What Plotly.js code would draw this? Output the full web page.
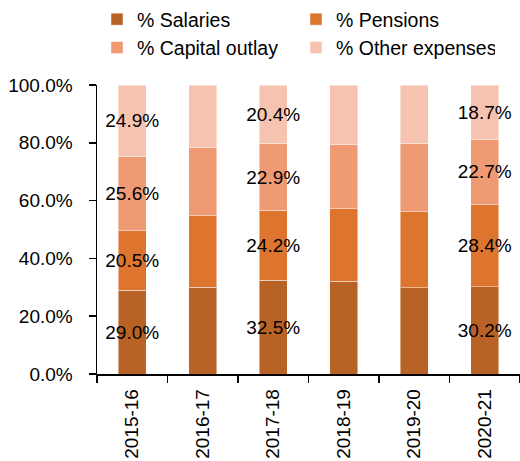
<!DOCTYPE html>
<html>
<head>
<meta charset="utf-8">
<script src="https://cdn.plot.ly/plotly-3.0.1.min.js"></script>
<style>
  html, body { margin: 0; padding: 0; background: #fff; overflow: hidden; }
  #chart { width: 520px; height: 461px; }
</style>
</head>
<body>
<div id="chart"></div>
<script>
// fiscal years on the x axis
const years = ['2015-16', '2016-17', '2017-18', '2018-19', '2019-20', '2020-21'];

// shares of total spending, in percent
const salaries = [29.0, 30.0, 32.5, 32.1, 29.9, 30.2];
const pensions = [20.5, 24.8, 24.2, 25.1, 26.3, 28.4];
const capitalOutlay = [25.6, 23.7, 22.9, 22.2, 23.5, 22.7];
const otherExpenses = [24.9, 21.5, 20.4, 20.6, 20.3, 18.7];

// only these years carry value labels in the original
const labelledYears = ['2015-16', '2017-18', '2020-21'];

const yTicks = [0, 20, 40, 60, 80, 100];

const FONT = 'Liberation Sans, Arial, sans-serif';
const FS = 19;

function makeTrace(name, values, color) {
  return {
    type: 'bar',
    name: name,
    x: years,
    y: values,
    marker: { color: color, line: { color: 'rgba(255,255,255,0.45)', width: 1 } },
    text: values.map((v, i) => labelledYears.includes(years[i]) ? v.toFixed(1) + '%' : ''),
    textposition: 'inside',
    insidetextanchor: 'middle',
    textangle: 0,
    textfont: { family: FONT, size: FS, color: '#000' },
    hoverinfo: 'skip'
  };
}

const traces = [
  makeTrace('% Salaries', salaries, '#B96226'),
  makeTrace('% Pensions', pensions, '#DE752E'),
  makeTrace('% Capital outlay', capitalOutlay, '#EF9A72'),
  makeTrace('% Other expenses', otherExpenses, '#F5C3B0')
];

const layout = {
  width: 520,
  height: 461,
  margin: { l: 97, r: 0, t: 85, b: 87 },
  paper_bgcolor: '#fff',
  plot_bgcolor: '#fff',
  font: { family: FONT, size: FS, color: '#000' },
  barmode: 'stack',
  bargap: 0.6,
  uniformtext: { mode: 'show', minsize: FS },
  showlegend: true,
  legend: {
    orientation: 'h',
    x: 0.0,
    xanchor: 'left',
    y: 1,
    yref: 'container',
    yanchor: 'top',
    entrywidth: 154,
    traceorder: 'normal',
    tracegroupgap: 0,
    font: { family: FONT, size: 19.5, color: '#000' },
    bgcolor: 'rgba(0,0,0,0)'
  },
  xaxis: {
    type: 'category',
    tickangle: -90,
    showline: true,
    linecolor: '#000',
    linewidth: 1.5,
    ticks: 'outside',
    tickson: 'boundaries',
    ticklen: 7,
    tickcolor: '#000',
    tickwidth: 1.5,
    ticklabelstandoff: 6,
    showgrid: false,
    zeroline: false,
    tickfont: { family: FONT, size: FS, color: '#000' }
  },
  yaxis: {
    range: [0, 100],
    tickvals: yTicks,
    ticktext: yTicks.map(v => v.toFixed(1) + '%'),
    showline: true,
    linecolor: '#000',
    linewidth: 1.5,
    ticks: 'outside',
    ticklen: 7,
    tickcolor: '#000',
    tickwidth: 1.5,
    ticklabelstandoff: 12,
    showgrid: false,
    zeroline: false,
    tickfont: { family: FONT, size: FS, color: '#000' }
  }
};

Plotly.newPlot('chart', traces, layout, { displayModeBar: false, staticPlot: true });
</script>
</body>
</html>
